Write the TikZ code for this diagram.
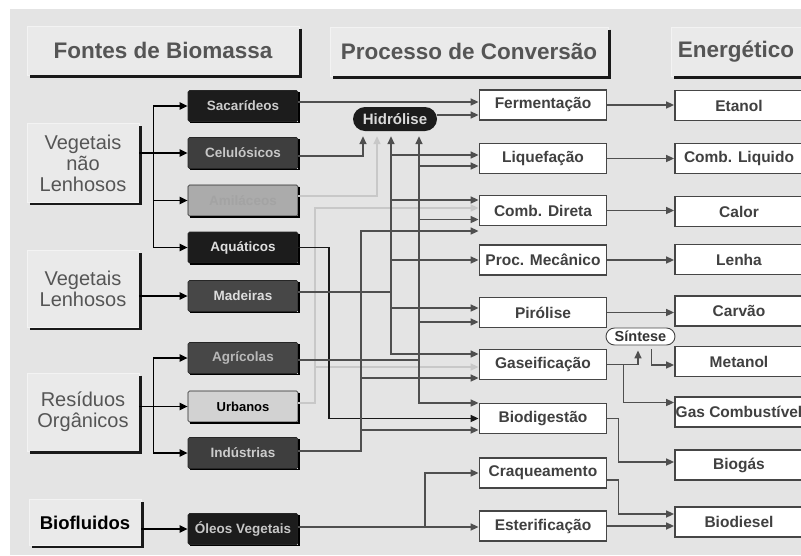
\documentclass[tikz,border=0pt]{standalone}
\usepackage{fontspec}
\setmainfont{Liberation Sans}
\usetikzlibrary{arrows.meta, positioning, calc}
\definecolor{bggray}{HTML}{E4E4E4}
\definecolor{headfill}{HTML}{EAEAEA}
\definecolor{headtext}{HTML}{555555}
\definecolor{wiregray}{HTML}{4F4F4F}
\definecolor{wirelight}{HTML}{C8C8C8}
\definecolor{srcblack}{HTML}{1C1C1C}
\definecolor{srcdark}{HTML}{3E3E3E}
\definecolor{srcmid}{HTML}{474747}
\definecolor{srclight}{HTML}{ABABAB}
\definecolor{srcpale}{HTML}{D2D2D2}
\definecolor{boxline}{HTML}{464646}

\begin{document}
\begin{tikzpicture}[
    x=1pt, y=-1pt,
    >={Triangle[length=8pt, width=7pt]},
    heading/.style={rectangle, draw=white!55!bggray, line width=.8pt, fill=headfill, text=headtext, font=\bfseries\fontsize{22.5}{26}\selectfont, inner sep=0pt},
    sourcegroup/.style={heading, font=\fontsize{20}{21}\selectfont, align=center, minimum width=112pt},
    kind/.style={rectangle, rounded corners=1.5pt, draw=black!85, line width=.6pt, font=\bfseries\fontsize{13.5}{15}\selectfont, minimum width=110pt, minimum height=31pt, inner sep=0pt},
    process/.style={rectangle, draw=boxline, line width=1.8pt, fill=white, text=black!75, font=\bfseries\fontsize{15.5}{17}\selectfont, minimum width=127pt, minimum height=30pt, inner sep=0pt},
    product/.style={process, minimum width=128pt},
    darkpill/.style={rectangle, rounded corners=12pt, fill=srcblack, text=black!15, font=\bfseries\fontsize{15}{17}\selectfont, minimum width=84pt, minimum height=24pt, inner sep=0pt},
    whitepill/.style={rectangle, rounded corners=8.5pt, draw=boxline, line width=.9pt, fill=white, text=black!80, font=\bfseries\fontsize{14.5}{16}\selectfont, minimum width=69pt, minimum height=17pt, inner sep=0pt},
    shade/.style={black!90, line width=2.2pt},
    thinshade/.style={black, line width=1.2pt},
    feed/.style={->, black, line width=1.8pt},
    wire/.style={->, wiregray, line width=1.6pt},
    blackwire/.style={wire, black!90},
    faint/.style={wire, wirelight}
]
\useasboundingbox (0,0) rectangle (801,555);
\clip (0,0) rectangle (801,555);
\fill[white] (0,0) rectangle (801,555);
\fill[bggray] (10,9) rectangle (801,555);

% Titles
\node[heading, minimum width=272pt, minimum height=49pt] (hfont) at (163,50.5) {Fontes de Biomassa};
\node[heading, minimum width=278pt, minimum height=49pt] (hproc) at (469,51.5) {Processo de Conversão};
\node[heading, minimum width=130pt, minimum height=49pt] (hener) at (736,51.5) {Energético};

% Column 1
\node[sourcegroup, minimum height=79pt] (vnl) at (83,163) {Vegetais\\não\\Lenhosos};
\node[sourcegroup, minimum height=77pt] (vl) at (83,289) {Vegetais\\Lenhosos};
\node[sourcegroup, minimum height=78pt] (ro) at (83,412) {Resíduos\\Orgânicos};
\node[sourcegroup, minimum height=46pt, font=\bfseries\fontsize{18.5}{21}\selectfont, text=black] (bio) at (85,522.5) {Biofluidos};

\foreach \n in {hfont, hproc, hener, vnl, vl, ro, bio}
  \draw[shade] ([xshift=1.1pt, yshift=-3pt]\n.north east) |- ([xshift=3pt, yshift=-1.1pt]\n.south west);

% Column 2
\node[kind, fill=srcblack, text=black!20] (sac) at (243,106) {Sacarídeos};
\node[kind, fill=srcdark, text=black!22] (cel) at (243,153) {Celulósicos};
\node[kind, fill=srclight, text=black!36] (ami) at (243,200.5) {Amiláceos};
\node[kind, fill=srcblack, text=black!13] (aqu) at (243,247.5) {Aquáticos};
\node[kind, fill=srcmid, text=black!13] (mad) at (243,296) {Madeiras};
\node[kind, fill=srcmid, text=black!28] (agr) at (243,358) {Agrícolas};
\node[kind, fill=srcpale, text=black, font=\bfseries\fontsize{13}{15}\selectfont] (urb) at (243,406.5) {Urbanos};
\node[kind, fill=srcdark, text=black!20] (ind) at (243,453) {Indústrias};
\node[kind, fill=srcblack, text=black!22] (oleo) at (243,529) {Óleos Vegetais};

\foreach \n in {sac, cel, ami, aqu, mad, agr, urb, ind, oleo}
  \draw[thinshade] ([xshift=.6pt, yshift=-2pt]\n.north east) |- ([xshift=2pt, yshift=-.6pt]\n.south west);

\node[darkpill] (hidro) at (395,119) {Hidrólise};

% Column 3
\node[process] (ferm) at (543,105) {Fermentação};
\node[process] (liq) at (543,158.5) {Liquefação};
\node[process] (comb) at (543,210.5) {Comb. Direta};
\node[process] (proc) at (543,260) {Proc. Mecânico};
\node[process] (piro) at (543,312.5) {Pirólise};
\node[process] (gas) at (543,364.5) {Gaseificação};
\node[process] (biodig) at (543,418.5) {Biodigestão};
\node[process] (craq) at (543,473) {Craqueamento};
\node[process] (ester) at (543,526) {Esterificação};

\node[whitepill] (sint) at (640.5,336.5) {Síntese};

% Column 4
\node[product] (etanol) at (739,105.5) {Etanol};
\node[product] (combliq) at (739,158.5) {Comb. Liquido};
\node[product] (calor) at (739,211.5) {Calor};
\node[product] (lenha) at (739,259.5) {Lenha};
\node[product] (carvao) at (739,311) {Carvão};
\node[product] (metanol) at (739,361.5) {Metanol};
\node[product] (gascomb) at (739,412) {Gas Combustível};
\node[product] (biogas) at (739,465) {Biogás};
\node[product] (biodiesel) at (739,522) {Biodiesel};

% Sources to kinds
\foreach \k in {sac, cel, ami, aqu}
  \draw[feed] ([yshift=10pt]vnl.east) -- ++(14,0) |- (\k.west);
\draw[feed] (vl.east |- mad.west) -- (mad.west);
\foreach \k in {agr, urb, ind}
  \draw[feed] (ro.east |- urb.west) -- ++(14,0) |- (\k.west);
\draw[feed] (bio.east |- oleo.west) -- (oleo.west);

% Kinds to processes
\coordinate (celout) at ([yshift=-3pt]cel.east);
\coordinate (amiout) at ([yshift=4.5pt]ami.east);
\coordinate (aquout) at (aqu.east);
\coordinate (madout) at ([yshift=4pt]mad.east);
\coordinate (agrout) at ([yshift=-2pt]agr.east);
\coordinate (urbout) at ([yshift=3.5pt]urb.east);
\coordinate (indout) at ([yshift=2pt]ind.east);
\coordinate (oleout) at ([yshift=2pt]oleo.east);

\coordinate (inC) at ([xshift=-32pt, yshift=-5pt]hidro.south);
\coordinate (inA) at ([xshift=-18pt, yshift=-5pt]hidro.south);
\coordinate (busM) at ([xshift=-4pt, yshift=-5pt]hidro.south);
\coordinate (busA) at ([xshift=24pt, yshift=-5pt]hidro.south);
\coordinate (busI) at (361,0);
\coordinate (busQ) at (329,0);
\coordinate (busU) at (315,0);
\coordinate (busO) at (425,0);

\draw[faint] (amiout) -| (inA);
\foreach \t/\s in {comb/2.5pt, gas/-2.5pt}
  \draw[faint] (urbout) -- (busU |- urbout) |- ([yshift=\s]\t.west);

\draw[wire] ([yshift=4pt]sac.east) -- ([yshift=3pt]ferm.west);
\draw[wire] ([yshift=4pt]hidro.east) -- ([yshift=-10pt]ferm.west);
\draw[wire] (celout) -| (inC);

\draw[blackwire] (aquout) -- (busQ |- aquout) |- (biodig.west);

\draw[wire] (madout) -| (busM);
\foreach \t/\s in {liq/3.5pt, comb/10.5pt, proc/0pt, piro/4.5pt, gas/10.5pt}
  \draw[wire] (madout) -- (busM |- madout) |- ([yshift=\s]\t.west);

\draw[wire] (agrout) -| (busA);
\foreach \t/\s in {liq/-7.5pt, comb/-9pt, piro/-9.5pt, biodig/15.5pt}
  \draw[wire] (agrout) -- (busA |- agrout) |- ([yshift=\s]\t.west);

\foreach \t/\s in {comb/-20.5pt, gas/-13.5pt, biodig/-11.5pt}
  \draw[wire] (indout) -- (busI |- indout) |- ([yshift=\s]\t.west);

\draw[wire] (oleout) -- (oleout -| ester.west);
\draw[wire] (oleout) -- (busO |- oleout) |- (craq.west);

% Processes to products
\foreach \p/\e in {ferm/etanol, liq/combliq, comb/calor, proc/lenha, piro/carvao}
  \draw[wire] (\p.east) -- (\p.east -| \e.west);
\draw[wire] (gas.east) -| ([xshift=-2.5pt, yshift=-5pt]sint.south);
\draw[wire] (gas.east) -- ++(16,0) |- ([yshift=9.5pt]gascomb.west);
\draw[wire] ([xshift=11pt, yshift=-4pt]sint.south) |- ([yshift=-3.5pt]metanol.west);
\draw[wire] (biodig.east) -- ++(11,0) |- ([yshift=3pt]biogas.west);
\draw[wire] ([yshift=-7pt]craq.east) -- ++(11,0) |- ([yshift=8pt]biodiesel.west);
\draw[wire] (ester.east) -- (ester.east -| biodiesel.west);

\end{tikzpicture}
\end{document}
